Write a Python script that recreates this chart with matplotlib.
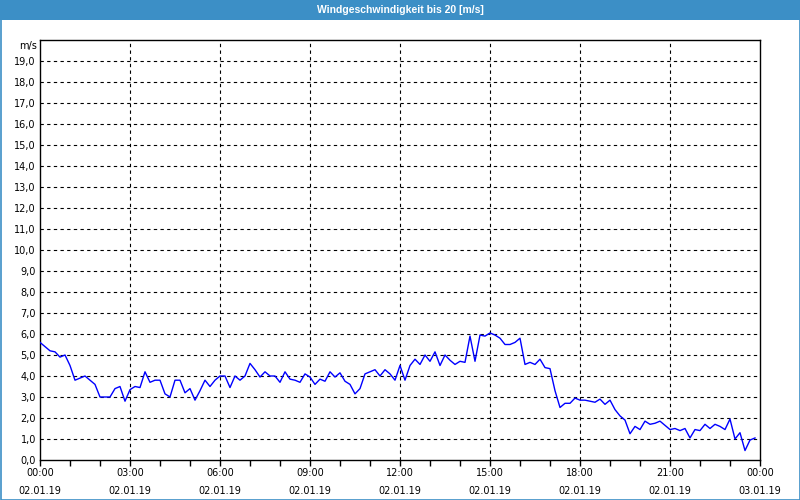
import matplotlib
matplotlib.use("Agg")
import matplotlib.pyplot as plt
import matplotlib.patches as mpatches
import numpy as np

# ---- data (10-minute samples, 00:00 .. 23:50) ----
wind = [5.6, 5.4, 5.2, 5.15, 4.9, 5.0, 4.5, 3.8, 3.9, 4.0, 3.8, 3.6,
        3.0, 3.0, 3.0, 3.4, 3.5, 2.8, 3.35, 3.5, 3.45, 4.2, 3.7, 3.8,
        3.8, 3.15, 3.0, 3.8, 3.8, 3.2, 3.4, 2.85, 3.3, 3.8, 3.5, 3.8,
        4.0, 4.0, 3.45, 4.0, 3.8, 4.0, 4.6, 4.3, 3.95, 4.2, 4.0, 4.0,
        3.7, 4.2, 3.85, 3.8, 3.7, 4.1, 3.95, 3.6, 3.85, 3.75, 4.2, 3.95,
        4.15, 3.75, 3.6, 3.15, 3.4, 4.1, 4.2, 4.3, 4.0, 4.3, 4.1, 3.8,
        4.5, 3.8, 4.5, 4.8, 4.55, 5.0, 4.7, 5.15, 4.5, 5.0, 4.75, 4.55,
        4.7, 4.65, 5.9, 4.7, 5.95, 5.9, 6.05, 5.95, 5.8, 5.5, 5.5, 5.6,
        5.8, 4.55, 4.65, 4.55, 4.8, 4.4, 4.35, 3.3, 2.5, 2.7, 2.7, 2.95,
        2.85, 2.85, 2.8, 2.75, 2.9, 2.65, 2.85, 2.4, 2.1, 1.9, 1.25, 1.6,
        1.45, 1.85, 1.7, 1.75, 1.85, 1.65, 1.45, 1.5, 1.4, 1.5, 1.05, 1.45,
        1.4, 1.7, 1.5, 1.7, 1.6, 1.45, 1.95, 1.0, 1.3, 0.45, 0.95, 1.05]
hours = np.arange(len(wind)) / 6.0

xtick_hours = [0, 3, 6, 9, 12, 15, 18, 21, 24]
xtick_times = ["00:00", "03:00", "06:00", "09:00", "12:00", "15:00", "18:00", "21:00", "00:00"]
xtick_dates = ["02.01.19"] * 8 + ["03.01.19"]
ytick_vals = list(range(0, 20))
title = "Windgeschwindigkeit bis 20 [m/s]"
unit = "m/s"

blue_bar = "#3C8FC6"

fig = plt.figure(figsize=(8, 5), dpi=100)
fig.patch.set_facecolor("white")

# title bar
fig.add_artist(mpatches.Rectangle((0, 1 - 20 / 500), 1, 20 / 500, transform=fig.transFigure,
                                  facecolor=blue_bar, edgecolor="none", zorder=0))
fig.text(0.5, 1 - 10 / 500, title, ha="center", va="center", color="white",
         fontsize=7.5, fontweight="bold", family="Liberation Sans")
# outer border
fig.add_artist(mpatches.Rectangle((0.5 / 800, 0.5 / 500), 1 - 1 / 800, 1 - 1 / 500,
                                  transform=fig.transFigure, facecolor="none",
                                  edgecolor=blue_bar, linewidth=1.2, zorder=5))

ax = fig.add_axes([40 / 800, 40 / 500, 720 / 800, 420 / 500])
ax.plot(hours, wind, color="#0000FF", linewidth=1.0, zorder=3)
ax.set_xlim(0, 24)
ax.set_ylim(0, 20)

ax.set_xticks(xtick_hours)
ax.set_xticklabels([f"{t}\n{d}" for t, d in zip(xtick_times, xtick_dates)],
                   fontsize=7, linespacing=2.05)
ax.set_xticks(np.arange(0, 25, 1), minor=True)
ax.tick_params(axis="x", which="both", direction="out", length=4, width=1, pad=1.5)

ax.set_yticks(ytick_vals)
ax.set_yticklabels([f"{v:.1f}".replace(".", ",") for v in ytick_vals], fontsize=7)
ax.tick_params(axis="y", length=0, pad=3)
ax.text(-0.004, 19.95, unit, transform=ax.get_yaxis_transform(), ha="right", va="top", fontsize=7)

for y in range(1, 20):
    ax.axhline(y, color="black", linestyle=(0, (3, 3)), linewidth=0.8, zorder=1)
for x in [3, 6, 9, 12, 15, 18, 21]:
    ax.axvline(x, color="black", linestyle=(0, (3, 3)), linewidth=0.8, zorder=1)

for s in ax.spines.values():
    s.set_color("black")
    s.set_linewidth(1.0)

fig.savefig("out.png", dpi=100)
